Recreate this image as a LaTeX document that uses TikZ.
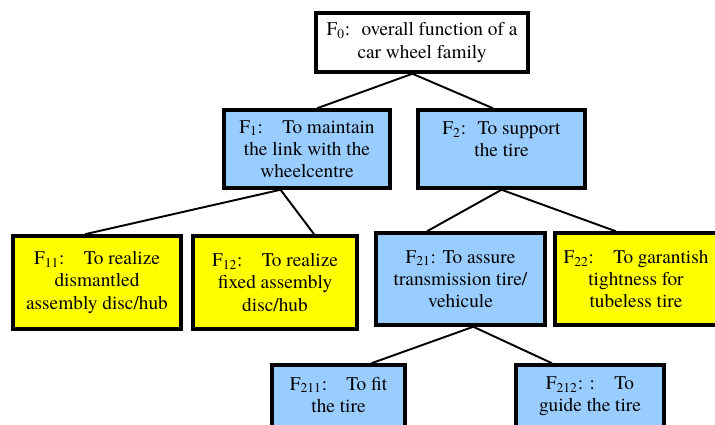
\documentclass[tikz,border=0pt]{standalone}
\usepackage{fontspec}
\setmainfont{texgyretermes}[Extension=.otf, UprightFont=*-regular, BoldFont=*-bold]
\definecolor{funcblue}{RGB}{153,204,255}
\definecolor{funcyellow}{RGB}{255,255,0}
\begin{document}
\begin{tikzpicture}[
    func/.style={draw=black, line width=2pt, align=center, inner sep=2pt,
                 font=\rmfamily\fontsize{11}{12.6}\selectfont},
    bluebox/.style={func, fill=funcblue},
    yellowbox/.style={func, fill=funcyellow},
    link/.style={line width=1.1pt}
  ]
  \useasboundingbox (0,0) rectangle (14.3,8.5);

  % Draw the function boxes
  \node[func, minimum width=4.24cm, minimum height=1.18cm] (f0) at (8.44,7.65)
    {F\textsubscript{0}:~ overall function of a\\car wheel family};

  \node[bluebox, minimum width=3.32cm, minimum height=1.56cm] (f1) at (6.14,5.52)
    {F\textsubscript{1}:\quad To maintain\\the link with the\\wheelcentre};
  \node[bluebox, minimum width=3.34cm, minimum height=1.56cm, text depth=0.38cm] (f2) at (10.03,5.52)
    {F\textsubscript{2}:~ To support\\the tire};

  \node[yellowbox, minimum width=3.36cm, minimum height=1.86cm] (f11) at (1.94,2.85)
    {F\textsubscript{11}:\quad To realize\\dismantled\\assembly disc/hub};
  \node[yellowbox, minimum width=3.28cm, minimum height=1.86cm] (f12) at (5.50,2.85)
    {F\textsubscript{12}:\quad To realize\\fixed assembly\\disc/hub};
  \node[bluebox, minimum width=3.38cm, minimum height=1.84cm] (f21) at (9.21,2.92)
    {F\textsubscript{21}: To assure\\transmission tire/\\vehicule};
  \node[yellowbox, minimum width=3.24cm, minimum height=1.84cm] (f22) at (12.72,2.92)
    {F\textsubscript{22}:\quad To garantish\\tightness for\\tubeless tire};

  \node[bluebox, minimum width=2.66cm, minimum height=1.56cm, text depth=0.38cm] (f211) at (6.77,0.42)
    {F\textsubscript{211}:\quad To fit\\the tire};
  \node[bluebox, minimum width=2.96cm, minimum height=1.56cm, text depth=0.38cm] (f212) at (11.80,0.42)
    {F\textsubscript{212}: :\quad To\\guide the tire};

  % Draw the tree links
  \draw[link] (f0.253) -- (f1.76);
  \draw[link] (f0.253) -- (f2.102);
  \draw[link] (f1.237) -- (f11.104);
  \draw[link] (f1.237) -- (f12.51);
  \draw[link] (f2.south) -- (f21.125);
  \draw[link] (f2.south) -- (f22.113);
  \draw[link] (f21.285) -- (f211.51);
  \draw[link] (f21.285) -- (f212.133);
\end{tikzpicture}
\end{document}
